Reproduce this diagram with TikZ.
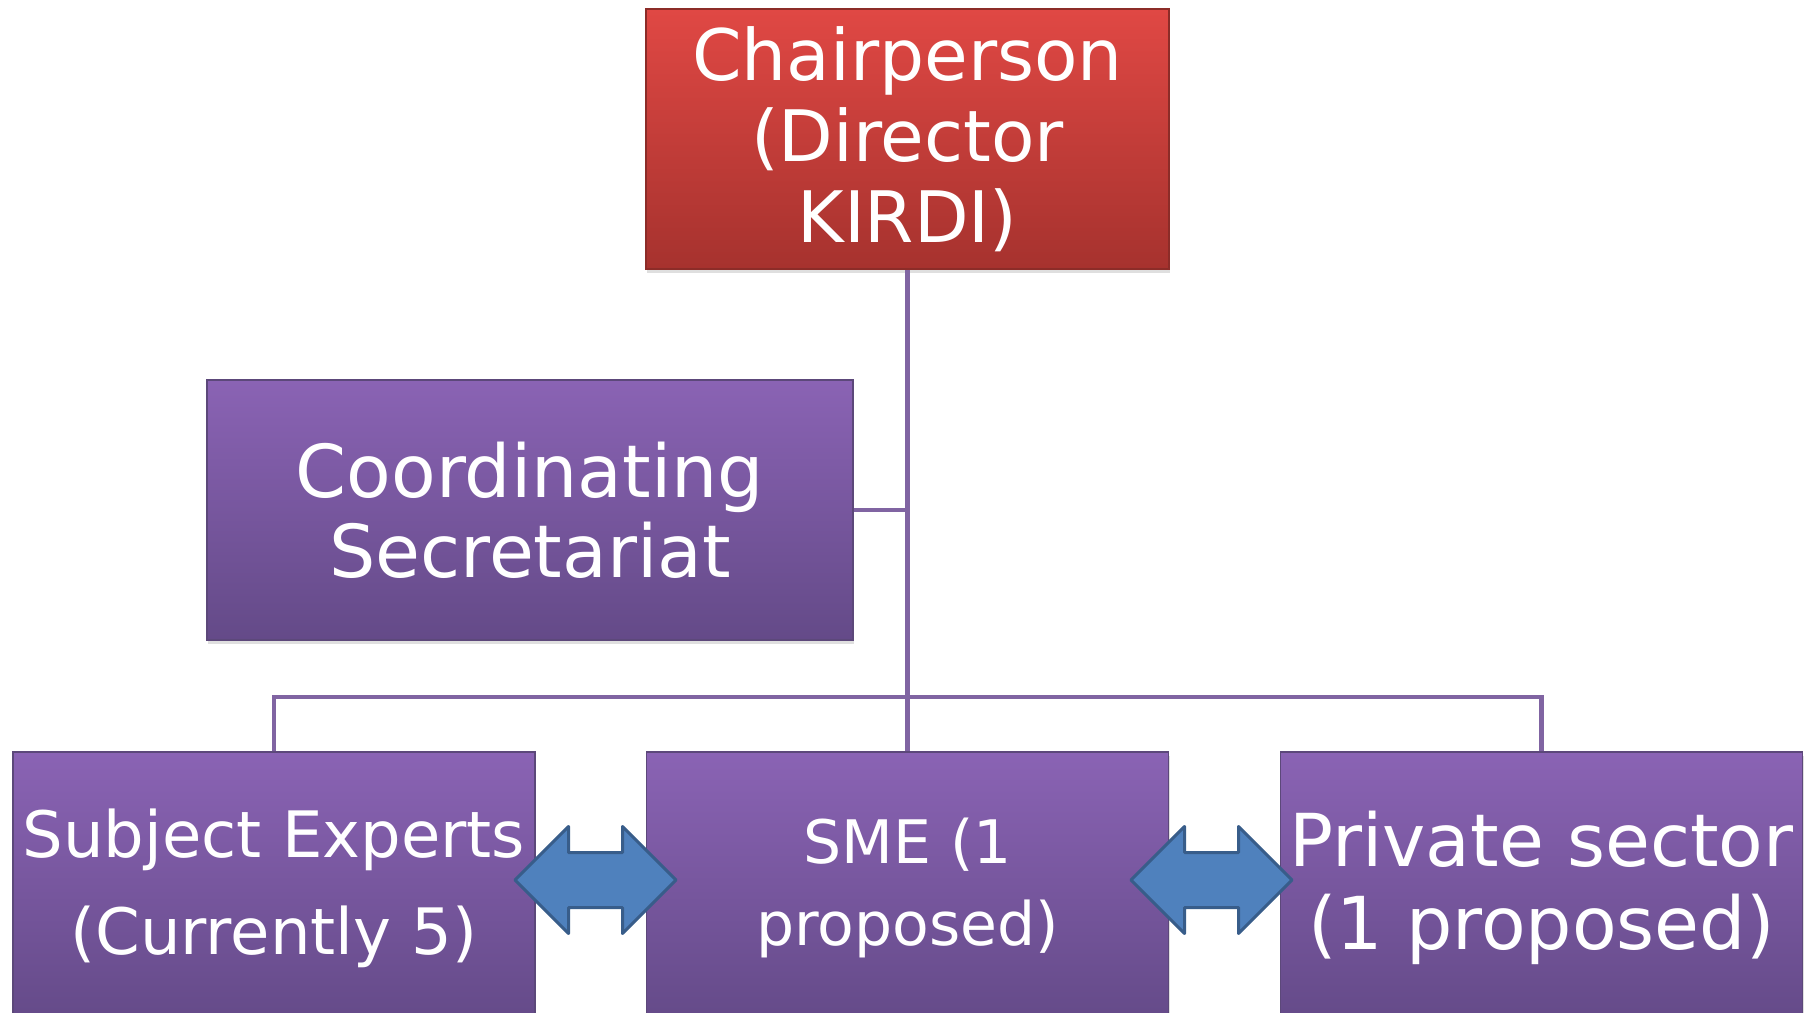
\documentclass[tikz,border=0pt]{standalone}
\usepackage{fontspec}
\setmainfont{DejaVu Sans}
\usetikzlibrary{shapes.arrows,shadows}

\definecolor{redtop}{RGB}{224,72,68}
\definecolor{redbot}{RGB}{166,50,46}
\definecolor{redline}{RGB}{140,44,40}
\definecolor{purtop}{RGB}{138,99,180}
\definecolor{purbot}{RGB}{100,74,136}
\definecolor{purline}{RGB}{92,72,122}
\definecolor{wirecol}{RGB}{128,100,162}
\definecolor{arrowfill}{RGB}{79,129,189}
\definecolor{arrowline}{RGB}{56,93,138}

\begin{document}
\begin{tikzpicture}[x=1pt, y=-1pt,
    box/.style={rectangle, text=white, align=center, inner sep=0pt,
        line width=1.5pt, minimum width=522pt, minimum height=260pt,
        drop shadow={opacity=0.25, shadow xshift=1pt, shadow yshift=-4pt}},
    redbox/.style={box, draw=redline, top color=redtop, bottom color=redbot},
    purplebox/.style={box, draw=purline, top color=purtop, bottom color=purbot},
    lowbox/.style={purplebox, minimum height=272pt},
    wire/.style={draw=wirecol, line width=4.5pt},
    link/.style={double arrow, double arrow head extend=26pt, inner xsep=0pt,
        inner ysep=26pt, minimum height=161pt, line join=round,
        fill=arrowfill, draw=arrowline, line width=3pt}]
    \useasboundingbox (0, 0) rectangle (1812, 1012);

    % Boxes
    \node[redbox, minimum width=523pt, font=\fontsize{71}{81}\selectfont] (chair) at (907.5, 139)
        {Chairperson\\(Director\\KIRDI)};
    \node[purplebox, minimum width=646pt, font=\fontsize{73}{80}\selectfont] (secr) at (530, 510)
        {Coordinating\\Secretariat};
    \node[lowbox, font=\fontsize{64}{97}\selectfont] (subj) at (274, 888)
        {Subject Experts\\(Currently 5)};
    \node[lowbox, font=\fontsize{60}{82}\selectfont] (sme) at (907.5, 888)
        {SME (1\\proposed)};
    \node[lowbox, font=\fontsize{73}{83}\selectfont] (priv) at (1541.5, 888)
        {Private sector\\(1 proposed)};

    % Tree lines
    \coordinate (bus) at (907.5, 697);
    \draw[wire] (chair.south) -- (sme.north);
    \draw[wire] (secr.east) -- (secr.east -| chair.south);
    \draw[wire] (subj.north) |- (bus) -| (priv.north);

    % Two-way arrows
    \node[link] (ln1) at (595.5, 880) {};
    \node[link] (ln2) at (1211.5, 880) {};
\end{tikzpicture}
\end{document}
